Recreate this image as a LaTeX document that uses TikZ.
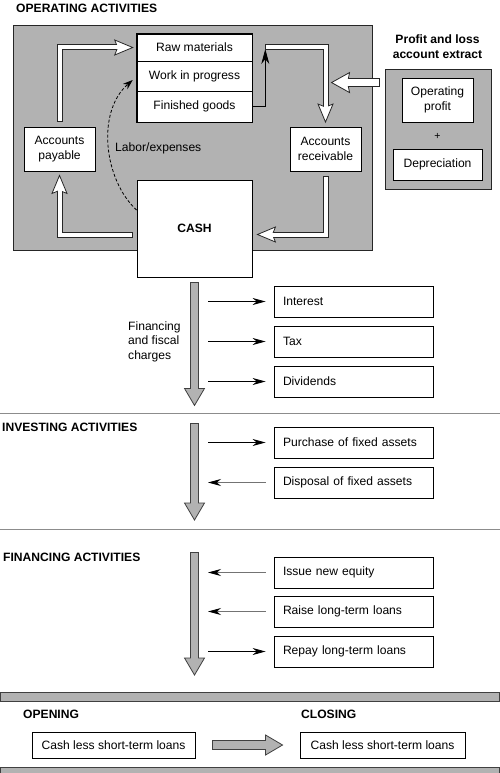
\documentclass[tikz,border=0pt]{standalone}
\usepackage{fontspec}
\setmainfont{Liberation Sans}
\usetikzlibrary{arrows.meta,calc}
\newcommand\fsz{\fontsize{12.1}{15}\selectfont}
\newcommand\garr[2]{%
  \draw[line width=9.5pt, draw=black!75] (#1) -- ($(#2)!16.5pt!(#1)$);
  \path (#1) -- (#2) pic[pos=1, sloped, allow upside down] {gh};
  \draw[line width=7.9pt, draw=black!30, shorten <=0.8pt] (#1) -- ($(#2)!15pt!(#1)$);
}
\begin{document}
\begin{tikzpicture}[x=1pt,y=-1pt,
  box/.style={draw=black, line width=0.9pt, fill=white, inner sep=0pt, align=center, font=\fsz},
  rbox/.style={box, minimum height=31pt, text width=141pt, align=left, inner xsep=9pt, inner ysep=0pt},
  hd/.style={font=\fsz\bfseries, anchor=west, inner sep=0pt},
  gbg/.style={fill=black!30, draw=black!85, line width=0.9pt, inner sep=0pt},
  gbar/.style={fill=black!30, draw=black!75, line width=0.8pt},
  hout/.style={draw=black!85, line width=6pt, line join=miter},
  hin/.style={draw=white, line width=4pt, line join=miter, shorten <=1pt},
  sarrow/.style={line width=0.8pt, -{Stealth[length=13pt,width=7pt]}},
  larrow/.style={draw=black!55, line width=0.8pt, -{Stealth[length=13pt,width=7pt,color=black]}},
  sep/.style={draw=black!45, line width=1pt},
  hh/.pic={\draw[fill=white, draw=black!85, line width=0.8pt, line join=miter] (0,0) -- (-18,-7.5) -- (-15,0) -- (-18,7.5) -- cycle;},
  bh/.pic={\draw[fill=white, draw=black!85, line width=0.8pt, line join=miter] (0,0) -- (-18,-10) -- (-16,0) -- (-18,10) -- cycle;},
  gh/.pic={\draw[fill=black!30, draw=black!75, line width=0.8pt, line join=miter] (0,0) -- (-17,-10) -- (-17,10) -- cycle;}
]
\useasboundingbox (0,0) rectangle (500,773);
\fill[white] (0,0) rectangle (500,773);

% ---------- operating activities ----------
\node[hd] (ophd) at (16,8) {OPERATING ACTIVITIES};
\node[gbg, minimum width=359pt, minimum height=225pt] (opbg) at (192.5,137.5) {};

\node[box, line width=0.6pt, minimum width=115pt, minimum height=27pt] (raw) at (194.5,47.5) {Raw materials};
\node[box, line width=0.6pt, minimum width=115pt, minimum height=30pt] (wip) at (194.5,76) {Work in progress};
\node[box, line width=0.6pt, minimum width=115pt, minimum height=31pt] (fg) at (194.5,106.5) {Finished goods};
\draw[line width=1pt] (raw.north west) rectangle (fg.south east);

\node[box, minimum width=71pt, minimum height=44pt] (pay) at (59.5,149) {Accounts\\payable};
\node[box, minimum width=71pt, minimum height=44pt] (rec) at (325.5,149) {Accounts\\receivable};
\node[box, minimum width=115pt, minimum height=97pt, font=\fsz\bfseries] (cash) at (194.5,228.5) {CASH};

\node[gbg, minimum width=106pt, minimum height=120pt] (plbg) at (438,129) {};
\node[font=\fsz\bfseries, align=center, inner sep=0pt] (pltitle) at (437.5,46.5) {Profit and loss\\account extract};
\node[box, minimum width=71pt, minimum height=44pt] (opp) at (437.5,100) {Operating\\profit};
\node[font=\fontsize{10.5}{11}\selectfont, inner sep=0pt] (plus) at (437.5,136) {+};
\node[box, minimum width=89pt, minimum height=31pt] (dep) at (437.5,164.5) {Depreciation};

\node[font=\fsz, anchor=west, inner sep=0pt] (labor) at (115,148) {Labor/expenses};

% payable -> raw materials
\coordinate (f1s) at ([yshift=5pt]pay.north);
\coordinate (f1t) at ([xshift=-4pt]raw.west);
\draw[hout] (f1s) |- ([xshift=-15pt]f1t);
\pic at (f1t) {hh};
\draw[hin] (f1s) |- ([xshift=-12pt]f1t);

% finished goods -> up
\coordinate (fgx) at ($(fg.east)+(13,0)$);
\coordinate (f2s) at (fgx |- raw.center);
\draw[line width=0.9pt, -{Stealth[length=15pt,width=8pt]}] (fg.east) -- (fgx) -- ([yshift=-1.5pt]f2s);

% -> accounts receivable
\coordinate (f3t) at ([yshift=4.5pt]rec.north);
\draw[hout] (f2s) -| ([yshift=15pt]f3t);
\pic[rotate=-90] at (f3t) {hh};
\draw[hin] (f2s) -| ([yshift=12pt]f3t);

% receivable -> cash
\coordinate (f4s) at ([yshift=-5pt]rec.south);
\coordinate (f4t) at ($(cash.east)+(5,6)$);
\draw[hout] (f4s) |- ([xshift=15pt]f4t);
\pic[rotate=180] at (f4t) {hh};
\draw[hin] (f4s) |- ([xshift=12pt]f4t);

% cash -> payable
\coordinate (f5s) at ($(cash.west)+(-4,6.5)$);
\coordinate (f5t) at ([yshift=-4pt]pay.south);
\draw[hout] (f5s) -| ([yshift=-15pt]f5t);
\pic[rotate=90] at (f5t) {hh};
\draw[hin] (f5s) -| ([yshift=-12pt]f5t);

% profit and loss -> operating cycle
\coordinate (pls) at ($(plbg.north west)+(-5,14)$);
\coordinate (pltip) at ($(plbg.north west)+(-53,14)$);
\draw[line width=9pt, draw=black!85] (pls) -- ($(pltip)+(16,0)$);
\pic[rotate=180] at (pltip) {bh};
\draw[line width=7pt, draw=white, shorten <=1pt] (pls) -- ($(pltip)+(13,0)$);

% labor / expenses
\draw[line width=0.8pt, dash pattern=on 3pt off 2pt, -{Stealth[length=10pt,width=7pt]}]
  ([yshift=18.5pt]cash.west) .. controls (104,180) and (96,112) .. ($(wip.west)+(-4,4)$);

% ---------- financing and fiscal charges ----------
\coordinate (ax) at (208,0);
\coordinate (g1s) at ($(cash.south)+(0,5)$);
\coordinate (g1t) at ($(cash.south)+(0,128)$);
\garr{g1s}{g1t}
\node[font=\fontsize{12.1}{14.5}\selectfont, align=left, anchor=west, inner sep=0pt] (fin) at (128,341.5) {Financing\\and fiscal\\charges};

\node[rbox] (int) at (353.5,301.5) {Interest};
\node[rbox] (tax) at (353.5,341.5) {Tax};
\node[rbox] (div) at (353.5,381.5) {Dividends};
\draw[sarrow, shorten >=8pt] (ax |- int.west) -- (int.west);
\draw[sarrow, shorten >=8pt] (ax |- tax.west) -- (tax.west);
\draw[sarrow, shorten >=8pt] (ax |- div.west) -- (div.west);

\draw[sep] (0,413) -- (500,413);

% ---------- investing ----------
\node[hd] (invhd) at (2,427) {INVESTING ACTIVITIES};
\coordinate (g2s) at (194.5,423);
\coordinate (g2t) at (194.5,520);
\garr{g2s}{g2t}
\node[rbox] (pur) at (353.5,442.5) {Purchase of fixed assets};
\node[rbox] (dis) at (353.5,482.5) {Disposal of fixed assets};
\draw[sarrow, shorten >=8pt] (ax |- pur.west) -- (pur.west);
\draw[larrow, shorten <=8pt] (dis.west) -- (ax |- dis.west);

\draw[sep] (0,529) -- (500,529);

% ---------- financing ----------
\node[hd] (finhd) at (3,557) {FINANCING ACTIVITIES};
\coordinate (g3s) at (194.5,552);
\coordinate (g3t) at (194.5,675);
\garr{g3s}{g3t}
\node[rbox] (iss) at (353.5,572.5) {Issue new equity};
\node[rbox] (rai) at (353.5,611.5) {Raise long-term loans};
\node[rbox] (rep) at (353.5,651.5) {Repay long-term loans};
\draw[larrow, shorten <=8pt] (iss.west) -- (ax |- iss.west);
\draw[larrow, shorten <=8pt] (rai.west) -- (ax |- rai.west);
\draw[sarrow, shorten >=8pt] (ax |- rep.west) -- (rep.west);

% ---------- opening / closing ----------
\filldraw[gbar] (0.5,692) rectangle (499.5,701);
\filldraw[gbar] (0.5,767) rectangle (499.5,780);
\node[hd] (opn) at (23,714) {OPENING};
\node[hd] (cls) at (301,714) {CLOSING};
\node[box, minimum width=163pt, minimum height=26pt] (obox) at (113.5,745) {Cash less short-term loans};
\node[box, minimum width=165pt, minimum height=26pt] (cbox) at (382.5,745) {Cash less short-term loans};
\coordinate (g4s) at ($(obox.east)+(17,0)$);
\coordinate (g4t) at ($(cbox.west)+(-17,0)$);
\garr{g4s}{g4t}
\end{tikzpicture}
\end{document}
